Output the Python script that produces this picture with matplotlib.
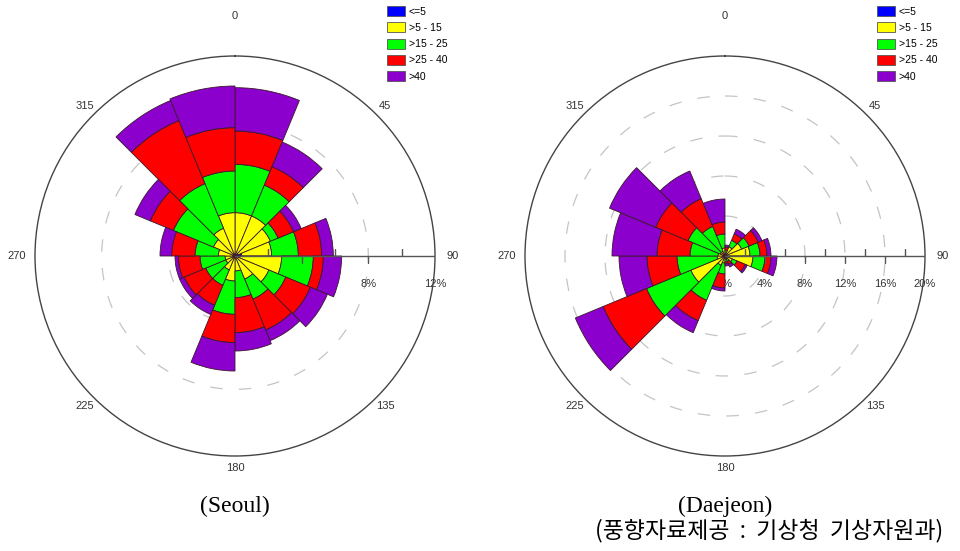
import numpy as np
import matplotlib
matplotlib.use("Agg")
import matplotlib.pyplot as plt
from matplotlib.patches import Patch
from matplotlib.markers import TICKUP, TICKDOWN

# 16 direction sectors, clockwise from north
sector_edges = np.arange(0, 360, 22.5)

speed_labels = ["<=5", ">5 - 15", ">15 - 25", ">25 - 40", ">40"]
speed_colors = ["#0000ff", "#ffff00", "#00ff00", "#ff0000", "#8b00cc"]

# frequency (%) per speed class, one value per sector
seoul_le5 = [0.1, 0.1, 0.2, 0.4, 0.3, 0.1, 0.1, 0.1, 0.1, 0.1, 0.1, 0.1, 0.1, 0.1, 0.1, 0.1]
seoul_5_15 = [2.5, 2.5, 2.1, 1.8, 2.5, 2.1, 1.4, 0.8, 1.4, 0.8, 0.5, 0.5, 0.9, 1.3, 1.7, 2.5]
seoul_15_25 = [2.9, 2.0, 0.5, 1.6, 1.9, 1.1, 1.3, 1.6, 2.0, 1.0, 1.3, 1.5, 1.4, 2.6, 2.9, 2.5]
seoul_25_40 = [2.0, 1.2, 1.0, 1.4, 0.6, 1.6, 2.0, 2.1, 1.7, 1.3, 1.4, 1.3, 1.4, 1.5, 4.1, 2.6]
seoul_gt40 = [2.6, 1.6, 0.5, 0.7, 1.1, 1.1, 0.7, 1.1, 1.7, 0.6, 0.3, 0.2, 0.7, 1.0, 1.3, 2.5]

daejeon_le5 = [0.1] * 16
daejeon_5_15 = [0.2, 0.9, 1.7, 2.4, 2.7, 0.7, 0.2, 0.2, 0.6, 0.9, 3.6, 0.7, 0.6, 0.4, 0.4, 0.7]
daejeon_15_25 = [0.3, 0.7, 0.8, 1.0, 1.2, 0.5, 0.3, 0.3, 1.1, 3.8, 4.8, 4.0, 2.8, 3.5, 2.7, 1.4]
daejeon_25_40 = [0.3, 0.7, 1.0, 0.7, 0.6, 0.9, 0.3, 0.2, 1.4, 2.2, 4.7, 3.0, 3.3, 3.5, 3.0, 1.2]
daejeon_gt40 = [0.2, 0.5, 0.4, 0.4, 0.6, 0.2, 0.3, 0.2, 0.3, 1.3, 3.0, 2.8, 4.5, 5.0, 3.0, 2.3]

seoul = [seoul_le5, seoul_5_15, seoul_15_25, seoul_25_40, seoul_gt40]
daejeon = [daejeon_le5, daejeon_5_15, daejeon_15_25, daejeon_25_40, daejeon_gt40]

dir_labels = [0, 45, 90, 135, 180, 225, 270, 315]


def wind_rose(ax, classes, rmax, label_pcts, dashed_pcts):
    ax.set_theta_zero_location("N")
    ax.set_theta_direction(-1)
    ax.set_ylim(0, rmax)
    ax.grid(False)
    ax.set_xticks([])
    ax.set_yticks([])
    ax.spines["polar"].set_color("#444444")
    ax.spines["polar"].set_linewidth(1.0)

    t = np.linspace(0, 2 * np.pi, 400)
    for r in dashed_pcts:
        ax.plot(t, np.full_like(t, r), color="#c4c4c4", lw=0.9,
                dashes=(10, 13), zorder=1)

    east = np.radians(90)
    # % labels along the east axis, drawn under the bars
    for r in label_pcts:
        ax.annotate(f"{r:g}%", xy=(east, r), xytext=(0, -20),
                    textcoords="offset points", ha="center", va="center",
                    fontsize=8, color="#333333", family="Liberation Sans",
                    zorder=1, annotation_clip=False)

    theta = np.radians(sector_edges + 11.25)
    width = np.radians(22.5)
    bottom = np.zeros(16)
    for vals, col in zip(classes, speed_colors):
        vals = np.array(vals)
        ax.bar(theta, vals, width=width, bottom=bottom, color=col,
               edgecolor="#3a1a2a", linewidth=0.6, zorder=2)
        bottom += vals

    ax.plot([east, east], [0, rmax], color="#555555", lw=1.0, zorder=3)
    for r in np.arange(2, rmax, 2):
        major = r in label_pcts
        ax.plot([east], [r], marker=TICKDOWN if major else TICKUP, ms=5,
                color="#555555", mew=1.0, zorder=3)

    for d in dir_labels:
        f = 1.2 if d == 0 else (1.09 if d in (90, 270) else 1.06)
        ax.text(np.radians(d), rmax * f, str(d), ha="center", va="center",
                fontsize=8, color="#333333", family="Liberation Sans")

    handles = [Patch(facecolor=c, edgecolor="#555555", lw=0.6) for c in speed_colors]
    ax.legend(handles, speed_labels, loc="upper left",
              bbox_to_anchor=(0.88, 1.125), frameon=False,
              borderaxespad=0, borderpad=0,
              handlelength=1.7, handleheight=1.1, labelspacing=0.55,
              handletextpad=0.4, prop={"family": "Liberation Sans", "size": 7.5})


fig = plt.figure(figsize=(9.6, 5.51), dpi=100)
ax1 = fig.add_axes([35 / 960, 95 / 551, 400 / 960, 400 / 551], projection="polar")
ax2 = fig.add_axes([525 / 960, 95 / 551, 400 / 960, 400 / 551], projection="polar")

wind_rose(ax1, seoul, 12, [0, 4, 8, 12], [4, 8])
wind_rose(ax2, daejeon, 20, [0, 4, 8, 12, 16, 20], [4, 8, 12, 16])

fig.text(235 / 960, 1 - 506 / 551, "(Seoul)", ha="center", va="center",
         fontsize=17, family="Liberation Serif")
fig.text(725 / 960, 1 - 506 / 551, "(Daejeon)", ha="center", va="center",
         fontsize=17, family="Liberation Serif")
fig.text(769 / 960, 1 - 531 / 551, "(풍향자료제공  :  기상청  기상자원과)", ha="center",
         va="center", fontsize=16.5, fontweight="light",
         family=["Noto Sans CJK KR", "DejaVu Sans"])

fig.savefig("out.png", dpi=100, facecolor="white")
